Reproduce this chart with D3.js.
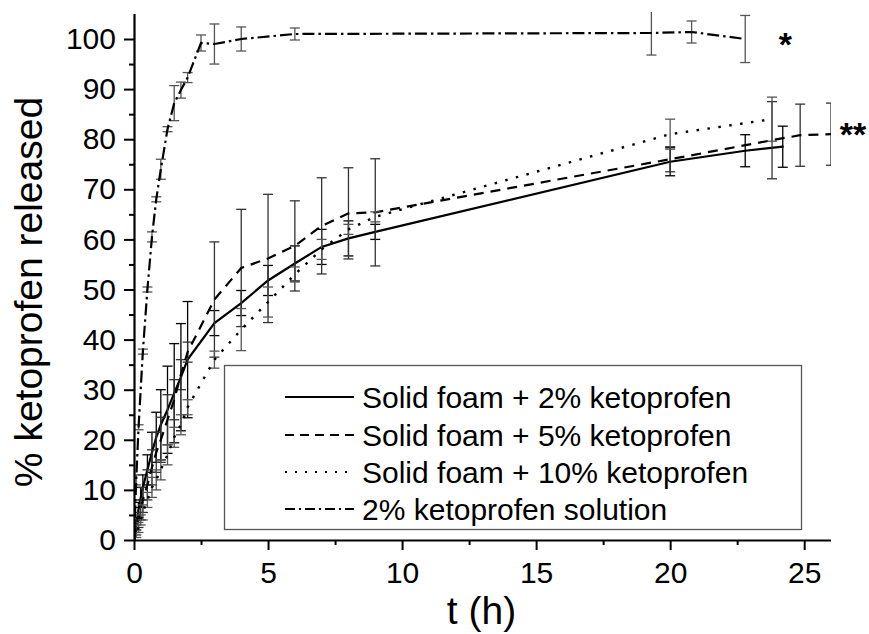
<!DOCTYPE html>
<html>
<head>
<meta charset="utf-8">
<script src="https://cdn.jsdelivr.net/npm/d3@7"></script>
<style>
  html, body { margin: 0; padding: 0; background: #fff; }
  svg { display: block; font-family: "Liberation Sans", Arial, sans-serif; }
</style>
</head>
<body>
<svg id="chart" width="869" height="634"></svg>
<script>
// ---------------- DATA ----------------
const seriesNames = [
  "Solid foam + 2% ketoprofen",
  "Solid foam + 5% ketoprofen",
  "Solid foam + 10% ketoprofen",
  "2% ketoprofen solution"
];

// Solid foam + 2% ketoprofen
const foam2T = [0, 0.083, 0.167, 0.25, 0.33, 0.5, 0.67, 0.83, 1, 1.25, 1.5, 1.75, 2, 3, 4, 5, 6, 7, 8, 9, 20, 22.8, 24.2];
const foam2V = [0, 3, 6, 8.5, 10.5, 14, 17.5, 20.5, 23, 26, 29.3, 32.5, 36, 43.3, 47.3, 51.8, 55.2, 58.5, 60.2, 61.5, 75.5, 77.7, 78.5];
const foam2E = [0, 1, 1.5, 2, 2.5, 3, 4, 5, 7, 8.7, 9.9, 10.7, 11.6, 2.5, 2.5, 3, 3.5, 3.5, 3.5, 1.5, 2.8, 3.2, 4.1];

// Solid foam + 5% ketoprofen
const foam5T = [0, 0.083, 0.167, 0.25, 0.33, 0.5, 0.67, 0.83, 1, 1.25, 1.5, 1.75, 2, 3, 4, 5, 6, 7, 8, 9, 20, 23.8, 24.85, 26];
const foam5V = [0, 2, 4, 6, 8, 11, 14.5, 17.5, 20, 24, 28, 33, 37.5, 48, 54.3, 56.2, 58.7, 62.7, 65.2, 65.4, 76, 79.8, 80.8, 81];
const foam5E = [0, 1, 1.5, 2, 2.5, 3, 3.5, 4, 4.5, 5, 4, 3, 2, 11.5, 11.7, 12.8, 9, 9.6, 9.1, 10.7, 2.5, 7.7, 6.2, 6.2];

// Solid foam + 10% ketoprofen
const foam10T = [0, 0.083, 0.167, 0.25, 0.33, 0.5, 0.67, 0.83, 1, 1.25, 1.5, 1.75, 2, 3, 4, 5, 6, 7, 8, 9, 20, 23.8];
const foam10V = [0, 1, 2.5, 4, 5.5, 8, 10.5, 12, 14, 17, 20.5, 23, 26.5, 36, 42, 47.5, 53, 58, 62, 64.5, 81, 84];
const foam10E = [0, 0.5, 1, 1, 1.5, 1.5, 2, 2, 2, 2, 2, 2, 1.5, 1.7, 4.2, 3, 1.5, 2, 1, 1, 3, 4.4];

// 2% ketoprofen solution
const solT = [0, 0.083, 0.17, 0.33, 0.5, 0.67, 0.83, 1, 1.25, 1.5, 1.75, 2, 2.5, 3, 4, 6, 19.3, 20.8, 22.8];
const solV = [0, 12, 22.5, 37.6, 50, 60.5, 68, 74, 82, 87.2, 89.8, 92.3, 99.2, 99, 100, 101, 101.2, 101.4, 100];
const solE = [0, 1, 0.5, 0.5, 0.5, 1, 0.5, 2, 0.5, 3.5, 1.6, 1, 1.6, 4, 2.4, 1.2, 4.4, 2.2, 4.7];

// Axes
const xMajorTicks = [0, 5, 10, 15, 20, 25];
const xMinorTicks = [2.5, 7.5, 12.5, 17.5, 22.5];
const yMajorTicks = [0, 10, 20, 30, 40, 50, 60, 70, 80, 90, 100];
const yMinorTicks = [5, 15, 25, 35, 45, 55, 65, 75, 85, 95];
const xDomain = [0, 26];
const yDomain = [0, 105];
const xTitle = "t (h)";
const yTitle = "% ketoprofen released";
const markSolution = "*";
const markFoam = "**";

// ---------------- DRAW ----------------
const svg = d3.select("#chart");
const L = 134, R = 831, B = 540, T = 14;

const x = d3.scaleLinear().domain(xDomain).range([L, R]);
const y = d3.scaleLinear().domain(yDomain).range([B, B - 105 * 5.01]);

svg.append("defs").append("clipPath").attr("id", "plotclip")
  .append("rect").attr("x", L).attr("y", T - 2).attr("width", R - L).attr("height", B - T + 4);

const series = [
  { name: seriesNames[0], t: foam2T, v: foam2V, e: foam2E, dash: null, width: 2.2, bar: "#000", cap: "round" },
  { name: seriesNames[1], t: foam5T, v: foam5V, e: foam5E, dash: "10,7", width: 2.2, bar: "#333", cap: "butt" },
  { name: seriesNames[2], t: foam10T, v: foam10V, e: foam10E, dash: "2.5,8.5", width: 2.4, bar: "#555", cap: "butt" },
  { name: seriesNames[3], t: solT, v: solV, e: solE, dash: "12,4,2.5,4", width: 2.2, bar: "#555", cap: "butt" }
];

const plot = svg.append("g").attr("clip-path", "url(#plotclip)");

const line = d3.line().x(d => x(d[0])).y(d => y(d[1]));

series.forEach(s => {
  const pts = s.t.map((t, i) => [t, s.v[i], s.e[i]]);
  const g = plot.append("g");
  // error bars
  const eb = g.selectAll("g.eb").data(pts.filter(d => d[2] > 0)).enter().append("g")
    .attr("stroke", s.bar).attr("stroke-width", 1.3).attr("fill", "none");
  eb.append("line")
    .attr("x1", d => x(d[0])).attr("x2", d => x(d[0]))
    .attr("y1", d => y(d[1] - d[2])).attr("y2", d => y(d[1] + d[2]));
  eb.append("line")
    .attr("x1", d => x(d[0]) - 5).attr("x2", d => x(d[0]) + 5)
    .attr("y1", d => y(d[1] + d[2])).attr("y2", d => y(d[1] + d[2]));
  eb.append("line")
    .attr("x1", d => x(d[0]) - 5).attr("x2", d => x(d[0]) + 5)
    .attr("y1", d => y(d[1] - d[2])).attr("y2", d => y(d[1] - d[2]));
  // line
  g.append("path").datum(pts).attr("d", line)
    .attr("fill", "none").attr("stroke", "#000")
    .attr("stroke-width", s.width)
    .attr("stroke-dasharray", s.dash)
    .attr("stroke-linecap", s.cap);
});

// Axes
const axisG = svg.append("g");
const xAx = axisG.append("g").attr("transform", `translate(0,${B})`)
  .call(d3.axisBottom(x).tickValues(xMajorTicks).tickSize(10).tickPadding(12).tickFormat(d3.format("d")));
const xAxMinor = axisG.append("g").attr("transform", `translate(0,${B})`)
  .call(d3.axisBottom(x).tickValues(xMinorTicks).tickSize(5).tickFormat(""));
const yAx = axisG.append("g").attr("transform", `translate(${L},0)`)
  .call(d3.axisLeft(y).tickValues(yMajorTicks).tickSize(10).tickPadding(8).tickFormat(d3.format("d")));
const yAxMinor = axisG.append("g").attr("transform", `translate(${L},0)`)
  .call(d3.axisLeft(y).tickValues(yMinorTicks).tickSize(5).tickFormat(""));

[xAx, xAxMinor, yAx, yAxMinor].forEach(a => {
  a.select(".domain").attr("stroke", "#000").attr("stroke-width", 2.2);
  a.selectAll(".tick line").attr("stroke", "#000").attr("stroke-width", 2);
  a.selectAll(".tick text").attr("fill", "#000").attr("font-size", 30)
    .attr("font-family", "Liberation Sans, Arial, sans-serif");
});
xAx.select(".domain").attr("d", `M${L},0.5H${R}`);
xAxMinor.select(".domain").remove();
yAx.select(".domain").attr("d", `M0.5,${B}V${T}`);
yAxMinor.select(".domain").remove();

// Axis titles
svg.append("text")
  .attr("x", (L + R) / 2 - 1).attr("y", 624)
  .attr("text-anchor", "middle").attr("font-size", 39).attr("fill", "#000")
  .text(xTitle);
svg.append("text")
  .attr("transform", `translate(42,${(T + B) / 2 + 15}) rotate(-90)`)
  .attr("text-anchor", "middle").attr("font-size", 39).attr("fill", "#000")
  .text(yTitle);

// Significance marks
svg.append("text").attr("x", x(24.3)).attr("y", 56).attr("text-anchor", "middle")
  .attr("font-size", 34).attr("font-weight", "bold").attr("fill", "#000").text(markSolution);
svg.append("text").attr("x", 853).attr("y", 146).attr("text-anchor", "middle")
  .attr("font-size", 34).attr("font-weight", "bold").attr("fill", "#000").text(markFoam);

// Legend
const lg = svg.append("g");
lg.append("rect").attr("x", 224.5).attr("y", 365.5).attr("width", 577).attr("height", 164)
  .attr("fill", "#fff").attr("stroke", "#555").attr("stroke-width", 1.3);
const rowY = [397, 435, 472, 509];
series.forEach((s, i) => {
  lg.append("line").attr("x1", 285).attr("x2", 354).attr("y1", rowY[i]).attr("y2", rowY[i])
    .attr("stroke", "#000").attr("stroke-width", 1.8)
    .attr("stroke-dasharray", s.dash ? (i === 1 ? "9,6" : i === 2 ? "2,8" : "10,4,2,4") : null);
  lg.append("text").attr("x", 362).attr("y", rowY[i] + 11)
    .attr("font-size", 30).attr("fill", "#000").text(s.name);
});
</script>
</body>
</html>
